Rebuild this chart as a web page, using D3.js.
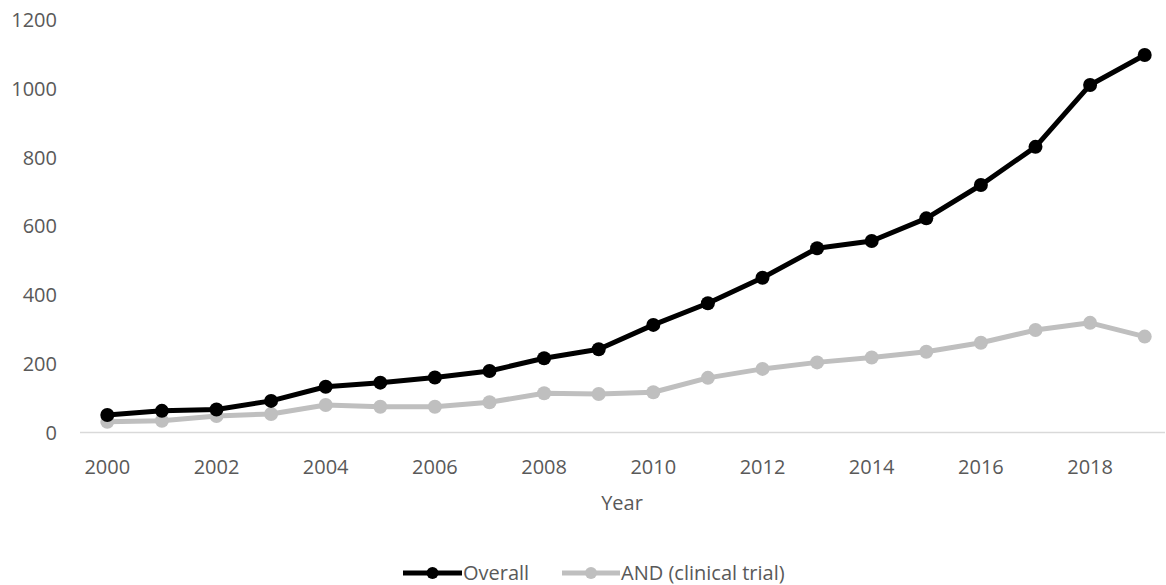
<!DOCTYPE html>
<html><head><meta charset="utf-8">
<script src="https://cdn.jsdelivr.net/npm/d3@7"></script>
<style>body{margin:0;background:#fff}svg{display:block}text{font-family:"Open Sans",sans-serif;fill:#595959}</style>
</head><body><svg id="c" width="1166" height="585"></svg>
<script>
const years = [2000,2001,2002,2003,2004,2005,2006,2007,2008,2009,2010,2011,2012,2013,2014,2015,2016,2017,2018,2019];
const overall = [51,63,67,92,133,145,160,179,216,242,313,376,450,536,557,623,720,831,1011,1098];
const clinical = [31,34,48,54,80,75,75,88,114,112,117,159,185,204,218,235,261,298,319,279];
const yTicks = [0,200,400,600,800,1000,1200];
const xTickLabels = [2000,2002,2004,2006,2008,2010,2012,2014,2016,2018];
const seriesNames = ["Overall","AND (clinical trial)"];
const seriesColors = ["#000000","#bfbfbf"];

const svg = d3.select("#c");
const x = d3.scaleBand().domain(years).range([80,1172]);
const y = d3.scaleLinear().domain([0,1200]).range([432.5,20]);
const cx = d => x(d) + x.bandwidth()/2;
const fs = "20px";

svg.append("g").selectAll("text").data(yTicks).join("text")
  .attr("x",57).attr("y",d=>y(d)).attr("dy","0.36em").attr("text-anchor","end")
  .style("font-size",fs).text(d=>d);

svg.append("line").attr("x1",80).attr("x2",1165).attr("y1",y(0)).attr("y2",y(0))
  .attr("stroke","#d9d9d9").attr("stroke-width",1.5);

svg.append("g").selectAll("text").data(xTickLabels).join("text")
  .attr("x",d=>cx(d)).attr("y",467).attr("dy","0.36em").attr("text-anchor","middle")
  .style("font-size",fs).text(d=>d);

svg.append("text").attr("x",622).attr("y",503).attr("dy","0.36em").attr("text-anchor","middle")
  .style("font-size",fs).text("Year");

const line = d3.line().x((d,i)=>cx(years[i])).y(d=>y(d));
[[clinical,1],[overall,0]].forEach(([vals,k])=>{
  svg.append("path").datum(vals).attr("d",line).attr("fill","none")
    .attr("stroke",seriesColors[k]).attr("stroke-width",5).attr("stroke-linejoin","round");
  svg.append("g").selectAll("circle").data(vals).join("circle")
    .attr("cx",(d,i)=>cx(years[i])).attr("cy",d=>y(d)).attr("r",7).attr("fill",seriesColors[k]);
});

const leg = [{x1:403,x2:462,tx:463},{x1:562,x2:620,tx:621}];
const ly = 573;
leg.forEach((L,k)=>{
  const g = svg.append("g");
  g.append("line").attr("x1",L.x1).attr("x2",L.x2).attr("y1",ly).attr("y2",ly)
    .attr("stroke",seriesColors[k]).attr("stroke-width",5);
  g.append("circle").attr("cx",(L.x1+L.x2)/2).attr("cy",ly).attr("r",6).attr("fill",seriesColors[k]);
  g.append("text").attr("x",L.tx).attr("y",ly).attr("dy","0.36em").style("font-size",fs).text(seriesNames[k]);
});
</script></body></html>
